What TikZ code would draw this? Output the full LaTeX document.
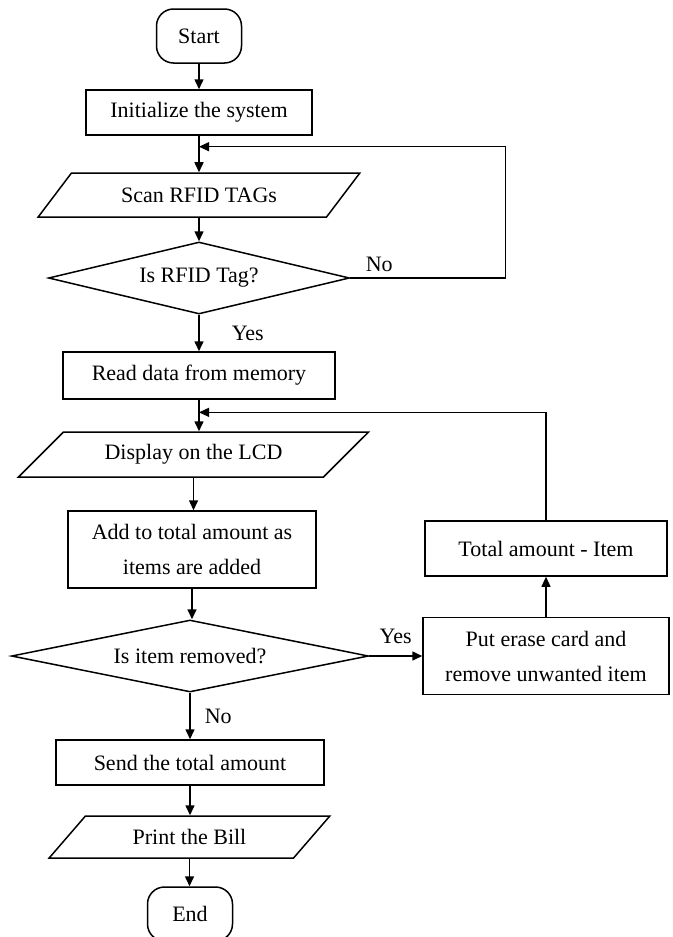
\documentclass[tikz,border=0pt]{standalone}
\usepackage{fontspec}
\setmainfont{Liberation Serif}
\usetikzlibrary{arrows.meta, shapes.geometric, calc}

\begin{document}
\begin{tikzpicture}[x=1pt, y=-1pt, line width=1.5pt, >={Triangle[length=10pt,width=9pt]},
	every node/.style={font=\fontsize{22}{35}\selectfont, inner sep=0pt},
	term/.style={draw, rounded corners=17pt, minimum width=85pt, minimum height=54pt},
	proc/.style={draw, rectangle, align=center},
	io/.style={draw, trapezium, trapezium stretches=true},
	dec/.style={draw, diamond, aspect=4},
	back/.style={->, line width=1.2pt}]
				\useasboundingbox (0,0) rectangle (672,937);

				\node[term] (start) at (199,36) {Start};
				\node[proc, minimum width=226pt, minimum height=45pt] (init) at (199,112.5) {Initialize the system};
				\node[io, trapezium left angle=36, trapezium right angle=144, minimum width=322pt, minimum height=44pt] (scan) at (199,195) {Scan RFID TAGs};
				\node[dec, minimum width=301pt, minimum height=72pt] (tag) at (199,278) {Is RFID Tag?};
				\node[proc, minimum width=272pt, minimum height=47pt] (read) at (199,375.5) {Read data from memory};
				\node[io, trapezium left angle=33, trapezium right angle=147, minimum width=351pt, minimum height=45pt] (disp) at (193.5,454.5) {Display on the LCD};
				\node[proc, minimum width=248pt, minimum height=77pt] (add) at (192,549.5) {Add to total amount as\\items are added};
				\node[dec, minimum width=357pt, minimum height=72pt] (rem) at (190,656) {Is item removed?};
				\node[proc, minimum width=246pt, minimum height=77pt] (erase) at (546,656) {Put erase card and\\remove unwanted item};
				\node[proc, minimum width=242pt, minimum height=55pt] (minus) at (546,548.5) {Total amount - Item};
				\node[proc, minimum width=268pt, minimum height=45pt] (send) at (190,762.5) {Send the total amount};
				\node[io, trapezium left angle=38, trapezium right angle=142, minimum width=281pt, minimum height=42pt] (bill) at (189.5,837) {Print the Bill};
				\node[term] (end) at (190,914) {End};

				\draw[->] (start.south) -- (start.south |- init.north);
				\draw[->] (init.south) -- (init.south |- scan.north);
				\draw[->] (scan.south) -- (scan.south |- tag.north);
				\draw[->] (tag.south) -- node[anchor=west, xshift=32pt] {Yes} (tag.south |- read.north);
				\draw[->] (read.south) -- (read.south |- disp.north);
				\draw[->] (disp.south) -- (disp.south |- add.north);
				\draw[->] (add.south) -- (add.south |- rem.north);
				\draw[->] (rem.south) -- node[anchor=west, xshift=14pt] {No} (rem.south |- send.north);
				\draw[->] (send.south) -- (send.south |- bill.north);
				\draw[->] (bill.south) -- (bill.south |- end.north);

				\draw[back] (tag.east) node[anchor=south west, xshift=15pt, yshift=6pt] {No}
				-- ++(155,0) |- ($(init.south)!0.3!(scan.north)$);
				\draw[->] (rem.east) -- node[anchor=south, yshift=12pt] {Yes} (erase.west);
				\draw[back] (erase.north) -- (minus.south);
				\draw[back] (minus.north) |- ($(read.south)!0.4!(read.south |- disp.north)$);

			\end{tikzpicture}
\end{document}
